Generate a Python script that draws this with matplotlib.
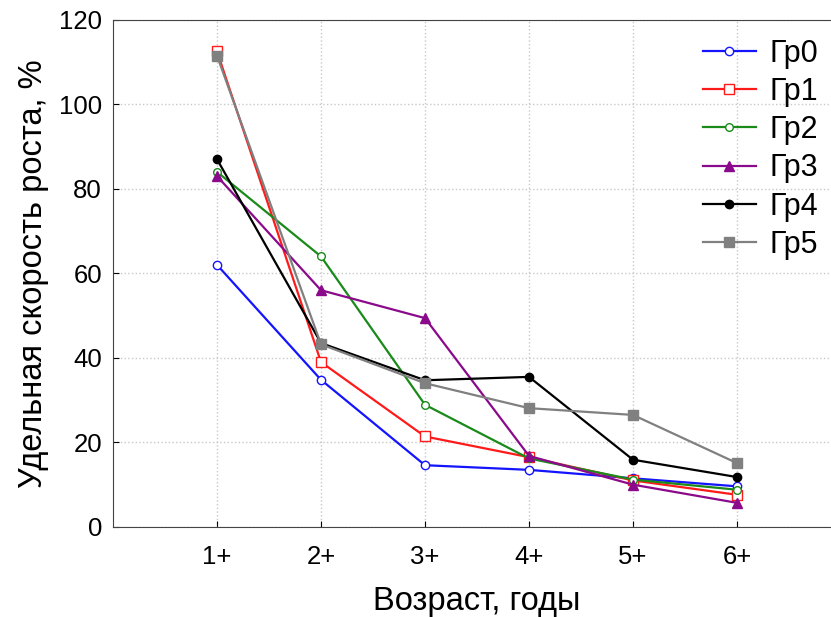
import numpy as np
import matplotlib.pyplot as plt

plt.rcParams['font.family'] = ['Liberation Sans', 'DejaVu Sans']

# возраст
ages = ["1+", "2+", "3+", "4+", "5+", "6+"]
x = np.arange(1, 7)

# удельная скорость роста по группам, %
gr0 = [62.0, 34.8, 14.6, 13.5, 11.5, 9.6]
gr1 = [112.5, 39.0, 21.4, 16.5, 11.0, 7.6]
gr2 = [84.0, 64.0, 28.9, 16.2, 11.2, 8.8]
gr3 = [83.0, 56.0, 49.4, 16.8, 10.0, 5.7]
gr4 = [87.0, 43.5, 34.7, 35.5, 15.9, 11.8]
gr5 = [111.5, 43.2, 34.0, 28.1, 26.5, 15.1]

fig = plt.figure(figsize=(8.31, 6.17), dpi=100)
ax = fig.add_axes([0.136, 0.146, 0.876, 0.822])

ax.plot(x, gr0, "-o", color="#1414ff", lw=1.6, ms=6, mfc="white", mec="#1414ff", label="Гр0")
ax.plot(x, gr1, "-s", color="#ff1a1a", lw=1.6, ms=7, mfc="white", mec="#ff1a1a", label="Гр1")
ax.plot(x, gr2, "-o", color="#1a8a1a", lw=1.6, ms=5.5, mfc="white", mec="#1a8a1a", label="Гр2")
ax.plot(x, gr3, "-^", color="#8b0a8b", lw=1.6, ms=7, label="Гр3")
ax.plot(x, gr4, "-o", color="black", lw=1.6, ms=6, label="Гр4")
ax.plot(x, gr5, "-s", color="#808080", lw=1.6, ms=7, label="Гр5")

ax.set_xlim(0, 7)
ax.set_ylim(0, 120)
ax.set_xticks(x)
ax.set_xticklabels(ages)
ax.set_yticks(np.arange(0, 121, 20))
ax.tick_params(direction="in", labelsize=18.5, length=4, colors="black")
ax.tick_params(axis="x", pad=13)
ax.tick_params(axis="y", pad=8)
ax.grid(True, linestyle=":", color="#c8c8c8", lw=1)
for s in ax.spines.values():
    s.set_color("#444444")
ax.spines["right"].set_visible(False)

ax.set_xlabel("Возраст, годы", fontsize=23.5, labelpad=12)
ax.set_ylabel("Удельная скорость роста, %", fontsize=23.5, labelpad=7)

ax.legend(loc="upper left", bbox_to_anchor=(0.81, 0.963), frameon=False, fontsize=22,
          handlelength=1.75, handletextpad=0.45, labelspacing=0.27, borderaxespad=0,
          borderpad=0)

plt.savefig("out.png", dpi=100)
